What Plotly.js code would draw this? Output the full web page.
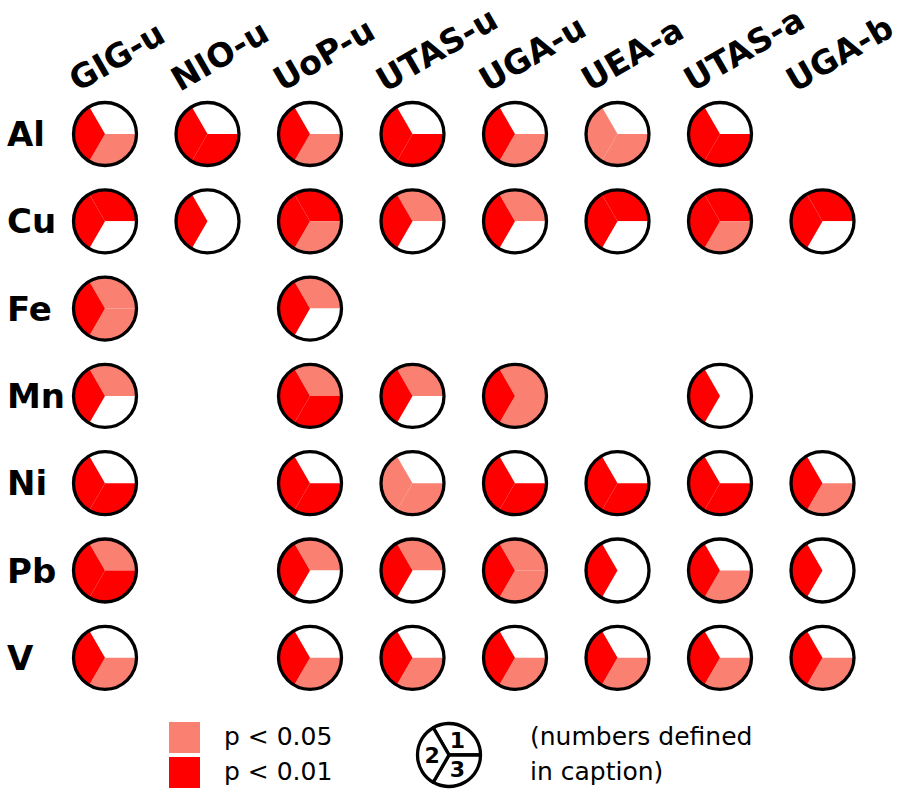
<!DOCTYPE html>
<html>
<head>
<meta charset="utf-8">
<script src="https://cdn.plot.ly/plotly-3.0.1.min.js"></script>
<style>body{margin:0;background:#fff} #plot{width:901px;height:798px}</style>
</head>
<body>
<div id="plot"></div>
<script>
// labs across the top, metals down the side
var labs = ['GIG-u', 'NIO-u', 'UoP-u', 'UTAS-u', 'UGA-u', 'UEA-a', 'UTAS-a', 'UGA-b'];
var metals = ['Al', 'Cu', 'Fe', 'Mn', 'Ni', 'Pb', 'V'];

// per lab: [sector 1, sector 2, sector 3]; 0 = n.s., 1 = p < 0.05, 2 = p < 0.01; null = no data
var Al = [[0,2,1], [0,2,2], [0,2,1], [0,2,2], [0,2,1], [0,1,1], [0,2,2], null];
var Cu = [[2,2,0], [0,2,0], [2,2,1], [1,2,0], [1,2,0], [2,2,0], [2,2,1], [2,2,0]];
var Fe = [[1,2,1], null, [1,2,0], null, null, null, null, null];
var Mn = [[1,2,0], null, [1,2,2], [1,2,0], [1,2,1], null, [0,2,0], null];
var Ni = [[0,2,2], null, [0,2,2], [0,1,1], [0,2,2], [0,2,2], [0,2,2], [0,2,1]];
var Pb = [[1,2,2], null, [1,2,0], [1,2,0], [1,2,1], [0,2,0], [0,2,1], [0,2,0]];
var V  = [[0,2,1], null, [0,2,1], [0,2,1], [0,2,1], [0,2,1], [0,2,1], [0,2,1]];
var rows = [Al, Cu, Fe, Mn, Ni, Pb, V];

var levelColors = ['white', 'salmon', 'red'];
var legendLabels = ['p < 0.05', 'p < 0.01'];
var legendLevels = [1, 2];
var sectorNames = ['1', '2', '3'];
var captionLines = ['(numbers defined', 'in caption)'];

// page geometry (pixels)
var W = 901, H = 798;
var colX0 = 105, colDx = 102.5;
var rowY0 = 134, rowDy = 87.3;
var rad = 31.5;
var font = 'DejaVu Sans, sans-serif';

function dom(cx, cy) {
  return {x: [(cx - rad) / W, (cx + rad) / W], y: [1 - (cy + rad) / H, 1 - (cy - rad) / H]};
}

// pie draws clockwise from 11 o'clock: sector 1, then 3, then 2
function order(a) { return [a[0], a[2], a[1]]; }

var data = [];
rows.forEach(function(row, r) {
  row.forEach(function(cell, c) {
    if (!cell) return;
    var d = dom(colX0 + c * colDx, rowY0 + r * rowDy);
    data.push({
      type: 'pie', values: [1, 1, 1], sort: false, direction: 'clockwise', rotation: -30,
      marker: {colors: order(cell).map(function(v) { return levelColors[v]; }), line: {width: 0}},
      textinfo: 'none', hoverinfo: 'skip', showlegend: false, domain: d
    });
    // black ring on top
    data.push({
      type: 'pie', values: [1], sort: false,
      marker: {colors: ['rgba(0,0,0,0)'], line: {color: 'black', width: 3.3}},
      textinfo: 'none', hoverinfo: 'skip', showlegend: false, domain: d
    });
  });
});

// key circle with sector numbers
data.push({
  type: 'pie', values: [1, 1, 1], sort: false, direction: 'clockwise', rotation: -30,
  text: order(sectorNames), textinfo: 'text', textposition: 'inside',
  insidetextorientation: 'horizontal',
  textfont: {family: font, size: 23, color: 'black', weight: 'bold'},
  marker: {colors: ['white', 'white', 'white'], line: {color: 'black', width: 3.3}},
  hoverinfo: 'skip', showlegend: false, domain: dom(449, 755)
});

// colour swatches
data.push({
  type: 'scatter', mode: 'markers', x: [0, 0], y: legendLabels,
  marker: {symbol: 'square', size: 31, color: legendLevels.map(function(v) { return levelColors[v]; })},
  hoverinfo: 'skip', showlegend: false, xaxis: 'x', yaxis: 'y'
});

var annotations = [];
labs.forEach(function(l, c) {
  annotations.push({
    text: '<b>' + l + '</b>', xref: 'paper', yref: 'paper',
    x: (colX0 + c * colDx - 46) / W, y: 1 - 102 / H,
    xanchor: 'left', yanchor: 'bottom', textangle: -30, showarrow: false,
    font: {family: font, size: 33, color: 'black'}
  });
});
metals.forEach(function(m, r) {
  annotations.push({
    text: '<b>' + m + '</b>', xref: 'paper', yref: 'paper',
    x: 5 / W, y: 1 - (rowY0 + r * rowDy) / H,
    xanchor: 'left', yanchor: 'middle', showarrow: false,
    font: {family: font, size: 34, color: 'black'}
  });
});
legendLabels.forEach(function(t, i) {
  annotations.push({
    text: t, xref: 'paper', yref: 'paper', x: 222 / W, y: 1 - (736 + i * 35) / H,
    xanchor: 'left', yanchor: 'middle', showarrow: false,
    font: {family: font, size: 25, color: 'black'}
  });
});
captionLines.forEach(function(t, i) {
  annotations.push({
    text: t, xref: 'paper', yref: 'paper', x: 528 / W, y: 1 - (736 + i * 35) / H,
    xanchor: 'left', yanchor: 'middle', showarrow: false,
    font: {family: font, size: 25, color: 'black'}
  });
});

var layout = {
  width: W, height: H,
  margin: {l: 0, r: 0, t: 0, b: 0},
  paper_bgcolor: 'white', plot_bgcolor: 'white',
  showlegend: false,
  xaxis: {domain: [164 / W, 205 / W], range: [-1, 1], visible: false, fixedrange: true},
  yaxis: {domain: [1 - 790 / H, 1 - 720 / H], type: 'category', range: [1.5, -0.5], visible: false, fixedrange: true},
  annotations: annotations
};

Plotly.newPlot('plot', data, layout, {displayModeBar: false, staticPlot: true});
</script>
</body>
</html>
